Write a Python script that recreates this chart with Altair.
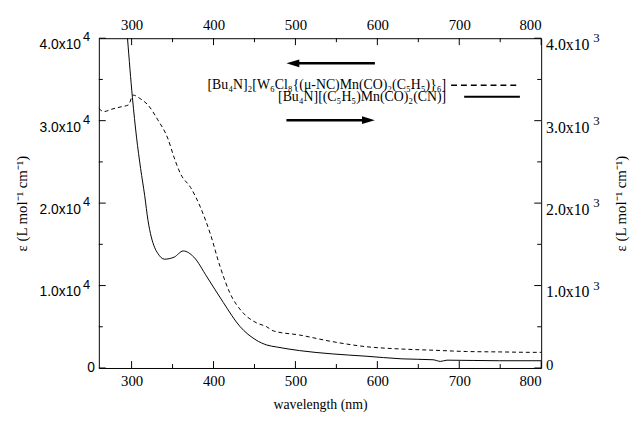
import altair as alt
import pandas as pd

# ---- data ----
# cluster [Bu4N]2[W6Cl8{(u-NC)Mn(CO)2(C5H5)}6]  (left axis, dashed)
wl_cluster = [260, 266, 276, 288, 296, 302, 310, 320, 332, 344, 352, 360, 372, 384,
              396, 408, 420, 436, 452, 465, 473, 505, 545, 585, 630, 670, 709, 750, 789, 800]
eps_cluster = [31500, 31100, 31400, 31700, 31900, 33100, 32700, 31900, 30100, 27900,
               25500, 23500, 21900, 19500, 16300, 12300, 9100, 6700, 5500, 5000, 4500,
               4000, 3200, 2600, 2300, 2150, 2000, 1950, 1900, 1900]

# mononuclear [Bu4N][(C5H5)Mn(CO)2(CN)]  (right axis, solid)
wl_mono = [295, 301, 306, 311, 316, 320, 324, 328, 332, 340, 352, 363, 376, 392, 412,
           432, 452, 465, 477, 505, 545, 585, 630, 668, 677, 685, 749, 800]
eps_mono = [4000, 3280, 2800, 2420, 2090, 1790, 1590, 1465, 1390, 1320, 1345, 1420,
            1345, 1105, 794, 507, 339, 279, 255, 211, 171, 144, 111, 100, 80, 95, 88, 88]

x_major = [300, 400, 500, 600, 700, 800]
x_minor = [350, 450, 550, 650, 750]
left_major = [0, 10000, 20000, 30000, 40000]
left_minor = [5000, 15000, 25000, 35000]
left_mant = ["0", "1.0x10", "2.0x10", "3.0x10", "4.0x10"]
left_exp = ["", "4", "4", "4", "4"]
right_major = [0, 1000, 2000, 3000, 4000]
right_minor = [500, 1500, 2500, 3500]
right_mant = ["0", "1.0x10", "2.0x10", "3.0x10", "4.0x10"]
right_exp = ["", "3", "3", "3", "3"]

legend_labels = ["[Bu₄N]₂[W₆Cl₈{(μ-NC)Mn(CO)₂(C₅H₅)}₆]", "[Bu₄N][(C₅H₅)Mn(CO)₂(CN)]"]
ytitle = "ε (L mol⁻¹ cm⁻¹)"
xtitle = "wavelength (nm)"

# ---- annotation placement (data coordinates) ----
legend_text_x = 684
legend_y = [34290, 32910]
sample_x0 = [690, 706]
sample_x1 = [774, 774]
arrow_x = [489, 597]
arrow_y = [36960, 30060]

W, H = 448, 334
SERIF = "Liberation Serif"
SANS = "Liberation Sans"

XS = alt.Scale(domain=[260, 800], nice=False, zero=False)
YL = alt.Scale(domain=[0, 40000], nice=False)
YR = alt.Scale(domain=[0, 4000], nice=False)

df_c = pd.DataFrame({"wl": wl_cluster, "eps": eps_cluster})
df_m = pd.DataFrame({"wl": wl_mono, "eps": eps_mono})

cluster = alt.Chart(df_c).mark_line(
    color="black", strokeWidth=1, strokeDash=[4, 3], interpolate="monotone"
).encode(
    x=alt.X("wl:Q", scale=XS, axis=alt.Axis(
        orient="bottom", values=x_major, ticks=False, domain=False, grid=False,
        labelFont=SERIF, labelFontSize=15, labelPadding=6, labelColor="black",
        title=xtitle, titleFont=SERIF, titleFontSize=14,
        titleFontWeight="normal", titleColor="black", titleY=37, titleBaseline="middle")),
    y=alt.Y("eps:Q", scale=YL, axis=alt.Axis(
        orient="left", values=left_major, ticks=False, domain=False, grid=False, labels=False,
        title=ytitle, titleFont=SERIF, titleFontSize=15, titleFontWeight="normal",
        titleColor="black", titleAngle=270, titleX=-78, titleY=H / 2,
        titleBaseline="middle", titleAlign="center")),
)

mono = alt.Chart(df_m).mark_line(
    color="black", strokeWidth=1, interpolate="monotone", clip=True
).encode(
    x=alt.X("wl:Q", scale=XS, axis=alt.Axis(
        orient="top", values=x_major, ticks=False, domain=False, grid=False,
        labelFont=SERIF, labelFontSize=15, labelPadding=6, labelColor="black", title=None)),
    y=alt.Y("eps:Q", scale=YR, axis=alt.Axis(
        orient="right", values=right_major, ticks=False, domain=False, grid=False, labels=False,
        title=ytitle, titleFont=SERIF, titleFontSize=15, titleFontWeight="normal",
        titleColor="black", titleAngle=270, titleX=80, titleY=H / 2,
        titleBaseline="middle", titleAlign="center")),
)

# ---- y tick labels with raised exponents ----
df_ll = pd.DataFrame({"v": left_major, "m": left_mant, "e": left_exp})
df_rl = pd.DataFrame({"v": right_major, "m": right_mant, "e": right_exp})

left_lab = alt.Chart(df_ll[df_ll["e"] != ""]).mark_text(
    align="right", baseline="middle", dy=7, font=SANS, fontSize=14, color="black"
).encode(x=alt.value(-18), y=alt.Y("v:Q", scale=YL, axis=None), text="m:N")
left_exp_t = alt.Chart(df_ll[df_ll["e"] != ""]).mark_text(
    align="center", baseline="middle", dy=-1, font=SANS, fontSize=13, color="black"
).encode(x=alt.value(-12.5), y=alt.Y("v:Q", scale=YL, axis=None), text="e:N")
left_zero = alt.Chart(df_ll[df_ll["e"] == ""]).mark_text(
    align="right", baseline="middle", font=SANS, fontSize=14, color="black"
).encode(x=alt.value(-4), y=alt.Y("v:Q", scale=YL, axis=None), text="m:N")

right_lab = alt.Chart(df_rl[df_rl["e"] != ""]).mark_text(
    align="left", baseline="middle", dy=7, font=SERIF, fontSize=16, color="black"
).encode(x=alt.value(W + 5), y=alt.Y("v:Q", scale=YR, axis=None), text="m:N")
right_exp_t = alt.Chart(df_rl[df_rl["e"] != ""]).mark_text(
    align="center", baseline="middle", dy=0, font=SERIF, fontSize=13, color="black"
).encode(x=alt.value(W + 56), y=alt.Y("v:Q", scale=YR, axis=None), text="e:N")
right_zero = alt.Chart(df_rl[df_rl["e"] == ""]).mark_text(
    align="left", baseline="middle", dy=-3, font=SERIF, fontSize=15, color="black"
).encode(x=alt.value(W + 5), y=alt.Y("v:Q", scale=YR, axis=None), text="m:N")

# ---- inward tick marks ----
dfx = pd.DataFrame({"v": x_major + x_minor, "len": [7] * len(x_major) + [4] * len(x_minor)})
dfl = pd.DataFrame({"v": left_major + left_minor, "len": [7] * len(left_major) + [4] * len(left_minor)})
dfr = pd.DataFrame({"v": right_major + right_minor, "len": [7] * len(right_major) + [4] * len(right_minor)})

def xticks(major, at_top):
    L = 7 if major else 4
    d = dfx[dfx["len"] == L]
    y0, y1 = (0, L) if at_top else (H - L, H)
    return alt.Chart(d).mark_rule(color="black", strokeWidth=1).encode(
        x=alt.X("v:Q", scale=XS, axis=None),
        y=alt.value(y0), y2=alt.value(y1))

def yticks(df, scale, major, at_right):
    L = 7 if major else 4
    d = df[df["len"] == L]
    x0, x1 = (W - L, W) if at_right else (0, L)
    return alt.Chart(d).mark_rule(color="black", strokeWidth=1).encode(
        y=alt.Y("v:Q", scale=scale, axis=None),
        x=alt.value(x0), x2=alt.value(x1))

tick_layers = [
    xticks(True, False), xticks(False, False), xticks(True, True), xticks(False, True),
    yticks(dfl, YL, True, False), yticks(dfl, YL, False, False),
    yticks(dfr, YR, True, True), yticks(dfr, YR, False, True),
]

# ---- legend ----
df_leg = pd.DataFrame({"label": legend_labels, "y": legend_y, "x": [legend_text_x] * 2,
                       "x0": sample_x0, "x1": sample_x1})
leg_text = alt.Chart(df_leg).mark_text(
    align="right", baseline="middle", font=SERIF, fontSize=14, color="black"
).encode(x=alt.X("x:Q", scale=XS, axis=None), y=alt.Y("y:Q", scale=YL, axis=None), text="label:N")

leg_dash = alt.Chart(df_leg.iloc[[0]]).mark_rule(color="black", strokeWidth=1.5, strokeDash=[6, 4]).encode(
    x=alt.X("x0:Q", scale=XS, axis=None), x2="x1:Q", y=alt.Y("y:Q", scale=YL, axis=None))
leg_solid = alt.Chart(df_leg.iloc[[1]]).mark_rule(color="black", strokeWidth=2).encode(
    x=alt.X("x0:Q", scale=XS, axis=None), x2="x1:Q", y=alt.Y("y:Q", scale=YL, axis=None))

# ---- arrows ----
head_offset = 7.9  # nm, half the arrow-head length
df_arrow = pd.DataFrame({
    "x0": [arrow_x[0] + head_offset, arrow_x[0]],
    "x1": [arrow_x[1], arrow_x[1] - head_offset],
    "hx": [arrow_x[0] + head_offset, arrow_x[1] - head_offset],
    "y": arrow_y,
})
arrow_shafts = alt.Chart(df_arrow).mark_rule(color="black", strokeWidth=2.5).encode(
    x=alt.X("x0:Q", scale=XS, axis=None), x2="x1:Q", y=alt.Y("y:Q", scale=YL, axis=None))
head_left = alt.Chart(df_arrow.iloc[[0]]).mark_point(
    shape="M -1 0 L 1 -0.6 L 1 0.6 Z", size=169, filled=True, color="black", opacity=1
).encode(x=alt.X("hx:Q", scale=XS, axis=None), y=alt.Y("y:Q", scale=YL, axis=None))
head_right = alt.Chart(df_arrow.iloc[[1]]).mark_point(
    shape="M 1 0 L -1 -0.6 L -1 0.6 Z", size=169, filled=True, color="black", opacity=1
).encode(x=alt.X("hx:Q", scale=XS, axis=None), y=alt.Y("y:Q", scale=YL, axis=None))

chart = alt.layer(
    cluster, mono, *tick_layers,
    left_lab, left_exp_t, left_zero, right_lab, right_exp_t, right_zero,
    leg_text, leg_dash, leg_solid, arrow_shafts, head_left, head_right
).resolve_scale(y="independent").resolve_axis(x="independent", y="independent").properties(
    width=W, height=H,
    autosize=alt.AutoSizeParams(type="none"),
    padding={"left": 92, "top": 28, "right": 93, "bottom": 46},
    background="white",
).configure_view(stroke="black", strokeWidth=1)

chart.save("out.html", embed_options={"renderer": "svg", "actions": False})
